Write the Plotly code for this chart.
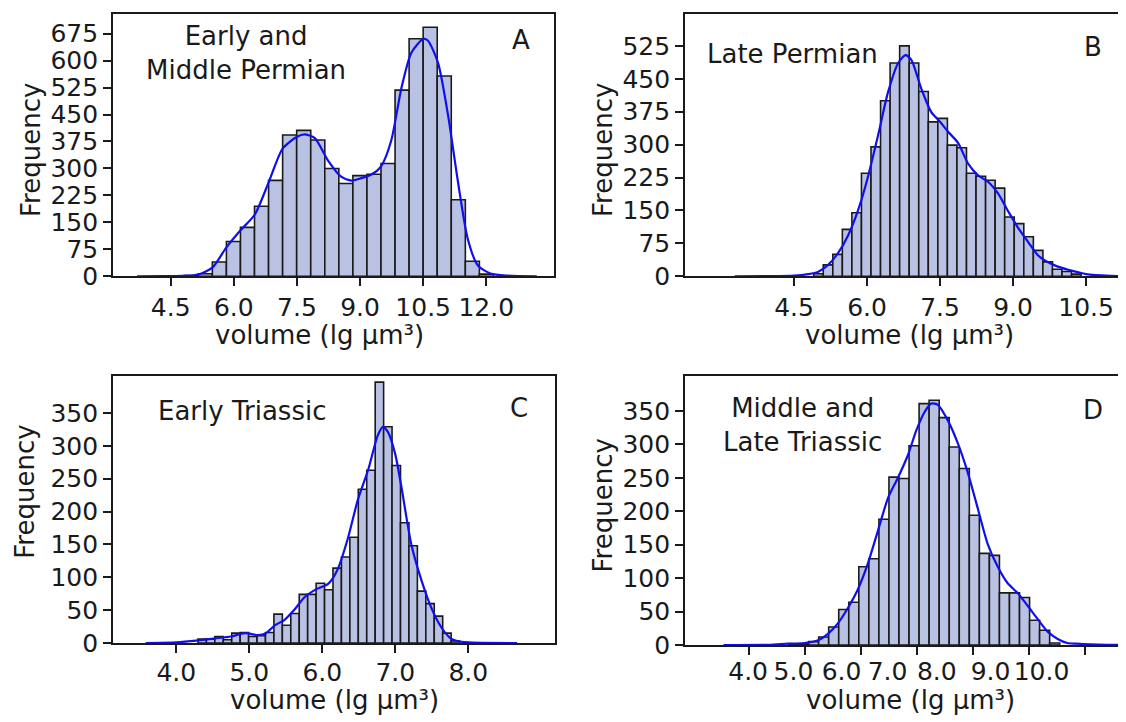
import plotly.graph_objects as go

W, H = 1126, 722
FONT = "DejaVu Sans"
FS = 25
FS_TXT = 26
INK = "#1a1a1a"
BAR_FILL = "#bac2e3"
KDE_COLOR = "#0f0fee"

# ---------------- data ----------------
# Panel A: Early and Middle Permian
a_start, a_width = 4.822, 0.334
a_counts = [2, 7, 40, 97, 136, 195, 267, 393, 406, 379, 300, 258, 280, 284, 314,
            518, 661, 693, 557, 213, 42, 6]
a_kde_x = [3.7, 4.3, 4.8, 5.15, 5.49, 5.82, 6.16, 6.5, 6.83, 7.16, 7.5, 7.68, 7.92,
           8.24, 8.55, 8.79, 9.0, 9.27, 9.5, 9.74, 9.98, 10.22, 10.5, 10.61, 10.85,
           11.09, 11.32, 11.56, 11.8, 12.1, 12.5, 13.2]
a_kde_y = [0, 0.3, 1.5, 5, 24, 80, 128, 172, 262, 355, 388, 395, 385, 322, 277, 266,
           272, 283, 306, 377, 522, 622, 660, 656, 595, 449, 268, 104, 30, 8, 2, 0]
a_yticks = [0, 75, 150, 225, 300, 375, 450, 525, 600, 675]
a_xticks = [4.5, 6.0, 7.5, 9.0, 10.5, 12.0]

# Panel B: Late Permian
b_start, b_width = 4.904, 0.1962
b_counts = [6, 26, 50, 107, 145, 235, 295, 400, 486, 525, 486, 421, 352, 360, 299,
            293, 235, 228, 219, 201, 135, 120, 90, 59, 33, 16, 11, 5]
b_kde_x = [3.28, 3.97, 4.5, 4.79, 4.99, 5.2, 5.4, 5.61, 5.82, 6.0, 6.23, 6.43, 6.64,
           6.79, 6.91, 7.12, 7.32, 7.5, 7.66, 7.87, 8.08, 8.28, 8.49, 8.69, 8.9, 9.1,
           9.31, 9.51, 9.72, 9.92, 10.13, 10.5, 11.0, 11.32]
b_kde_y = [0, 0.3, 1.5, 5, 10, 26, 52, 93, 152, 219, 323, 419, 486, 504, 493, 426,
           374, 352, 330, 304, 256, 230, 215, 189, 148, 111, 78, 48, 32, 22, 15, 5, 1, 0.5]
b_yticks = [0, 75, 150, 225, 300, 375, 450, 525]
b_xticks = [4.5, 6.0, 7.5, 9.0, 10.5]

# Panel C: Early Triassic
c_start, c_width = 4.297, 0.1156
c_counts = [6, 6, 10, 5, 15, 16, 10, 11, 16, 44, 27, 45, 74, 74, 91, 81, 114, 131,
            161, 234, 263, 397, 329, 270, 183, 148, 79, 60, 41, 15, 3]
c_kde_x = [3.58, 4.0, 4.3, 4.53, 4.75, 4.94, 5.12, 5.23, 5.35, 5.48, 5.62, 5.76, 5.92,
           6.08, 6.21, 6.35, 6.49, 6.63, 6.76, 6.83, 6.9, 7.0, 7.08, 7.22, 7.36, 7.5,
           7.63, 7.75, 7.85, 8.0, 8.67]
c_kde_y = [0, 1, 4, 7, 10, 15, 12, 15, 27, 35, 51, 70, 82, 90, 112, 159, 219, 264,
           316, 329, 321, 287, 240, 150, 95, 52, 24, 8, 3, 1, 0]
c_yticks = [0, 50, 100, 150, 200, 250, 300, 350]
c_xticks = [4.0, 5.0, 6.0, 7.0, 8.0]

# Panel D: Middle and Late Triassic (axis units follow the tick marks)
d_start, d_width = 4.712, 0.1794
d_counts = [1, 2, 5, 12, 27, 53, 64, 117, 129, 188, 251, 249, 298, 361, 366, 340,
            296, 264, 194, 137, 134, 78, 78, 71, 37, 22, 3]
d_kde_x = [3.55, 4.35, 4.7, 5.0, 5.24, 5.42, 5.59, 5.77, 5.95, 6.13, 6.31, 6.49, 6.66,
           6.84, 7.0, 7.14, 7.26, 7.38, 7.55, 7.73, 7.91, 8.09, 8.27, 8.45, 8.62, 8.8,
           8.98, 9.16, 9.34, 9.52, 9.69, 9.85, 10.1, 10.4, 10.74]
d_kde_y = [0, 0.3, 2, 3, 7, 17, 32, 55, 83, 122, 171, 220, 249, 283, 322, 348, 361,
           359, 337, 303, 259, 205, 151, 117, 93, 78, 59, 39, 20, 9, 3, 2, 1, 0.3, 0]
d_yticks = [0, 50, 100, 150, 200, 250, 300, 350]
d_tick_marks = [4, 5, 6, 7, 8, 9, 10]
d_label_pos = [3.99, 4.80, 5.66, 6.48, 7.36, 8.32, 9.23]
d_label_text = ["4.0", "5.0", "6.0", "7.0", "8.0", "9.0", "10.0"]

panels = [
    dict(key="1", start=a_start, width=a_width, counts=a_counts, kx=a_kde_x, ky=a_kde_y,
         xr=[3.129, 13.609], yr=[0, 730], yt=a_yticks, xt=a_xticks,
         dx=[105, 546], dy=[6, 274], so=0),
    dict(key="2", start=b_start, width=b_width, counts=b_counts, kx=b_kde_x, ky=b_kde_y,
         xr=[2.26, 11.32], yr=[0, 598], yt=b_yticks, xt=b_xticks,
         dx=[677, 1118], dy=[6, 274], so=0),
    dict(key="3", start=c_start, width=c_width, counts=c_counts, kx=c_kde_x, ky=c_kde_y,
         xr=[3.133, 9.188], yr=[0, 406], yt=c_yticks, xt=c_xticks,
         dx=[105, 547], dy=[376, 648.5], so=-2),
    dict(key="4", start=d_start, width=d_width, counts=d_counts, kx=d_kde_x, ky=d_kde_y,
         xr=[2.863, 10.74], yr=[0, 402], yt=d_yticks, xt=d_tick_marks,
         dx=[677, 1118], dy=[376, 650.5], so=0),
]

fig = go.Figure()
layout = dict(width=W, height=H, margin=dict(l=0, r=0, t=0, b=0),
              paper_bgcolor="white", plot_bgcolor="white", showlegend=False,
              font=dict(family=FONT, size=FS, color=INK))

for p in panels:
    k = p["key"]
    xa = "x" if k == "1" else "x" + k
    ya = "y" if k == "1" else "y" + k
    centers = [p["start"] + (i + 0.5) * p["width"] for i in range(len(p["counts"]))]
    fig.add_trace(go.Bar(x=centers, y=p["counts"], width=p["width"],
                         marker=dict(color=BAR_FILL, line=dict(color=INK, width=1.6)),
                         xaxis=xa, yaxis=ya, hoverinfo="x+y"))
    fig.add_trace(go.Scatter(x=p["kx"], y=p["ky"], mode="lines",
                             line=dict(color=KDE_COLOR, width=2.2, shape="spline", smoothing=0.7),
                             xaxis=xa, yaxis=ya, cliponaxis=True))
    xname = "xaxis" if k == "1" else "xaxis" + k
    yname = "yaxis" if k == "1" else "yaxis" + k
    layout[xname] = dict(
        domain=[p["dx"][0] / W, p["dx"][1] / W], range=p["xr"], anchor=ya,
        tickmode="array", tickvals=p["xt"], ticktext=[f"{v:.1f}" for v in p["xt"]],
        showticklabels=(k != "4"), ticklabelstandoff=p["so"],
        ticks="outside", ticklen=8, tickwidth=1.5, tickcolor=INK,
        showline=True, linecolor=INK, linewidth=1.6, mirror=True,
        showgrid=False, zeroline=False,
        tickfont=dict(family=FONT, size=FS, color=INK))
    layout[yname] = dict(
        domain=[1 - p["dy"][1] / H, 1 - p["dy"][0] / H], range=p["yr"], anchor=xa,
        tickmode="array", tickvals=p["yt"],
        ticks="outside", ticklen=8, tickwidth=1.5, tickcolor=INK,
        showline=True, linecolor=INK, linewidth=1.6, mirror=True,
        showgrid=False, zeroline=False,
        tickfont=dict(family=FONT, size=FS, color=INK))

# Panel D tick labels sit at their own positions (overlay axis, invisible ticks)
fig.add_trace(go.Scatter(x=d_label_pos, y=[0] * len(d_label_pos), mode="markers",
                         marker=dict(opacity=0), xaxis="x5", yaxis="y4", hoverinfo="skip"))
layout["xaxis5"] = dict(
    domain=[677 / W, 1118 / W], range=panels[3]["xr"], anchor="y4", overlaying="x4",
    side="bottom", tickmode="array", tickvals=d_label_pos, ticktext=d_label_text,
    ticks="outside", ticklen=8, tickwidth=1, tickcolor="rgba(0,0,0,0)",
    ticklabelstandoff=-4,
    showline=False, showgrid=False, zeroline=False,
    tickfont=dict(family=FONT, size=FS, color=INK))

fig.update_layout(**layout)

def ann(text, x, y, angle=0, size=FS_TXT, align="center"):
    fig.add_annotation(text=text, x=x / W, y=1 - y / H, xref="paper", yref="paper",
                       showarrow=False, textangle=angle, align=align,
                       xanchor="center", yanchor="middle",
                       font=dict(family=FONT, size=size, color=INK))

# panel texts
ann("Early and<br>Middle Permian", 238, 46)
ann("A", 513, 33)
ann("Late Permian", 784, 47)
ann("B", 1085, 40)
ann("Early Triassic", 234, 412)
ann("C", 511, 408)
ann("Middle and<br>Late Triassic", 794, 426)
ann("D", 1085, 411)

# axis titles
xt = "volume (lg μm³)"
ann(xt, 311, 334)
ann(xt, 901, 334)
ann(xt, 326, 707)
ann(xt, 902, 707)
ann("Frequency", 23, 145, angle=-90)
ann("Frequency", 595, 145, angle=-90)
ann("Frequency", 17, 494, angle=-90)
ann("Frequency", 595, 508, angle=-90)

fig.write_html("out.html")
